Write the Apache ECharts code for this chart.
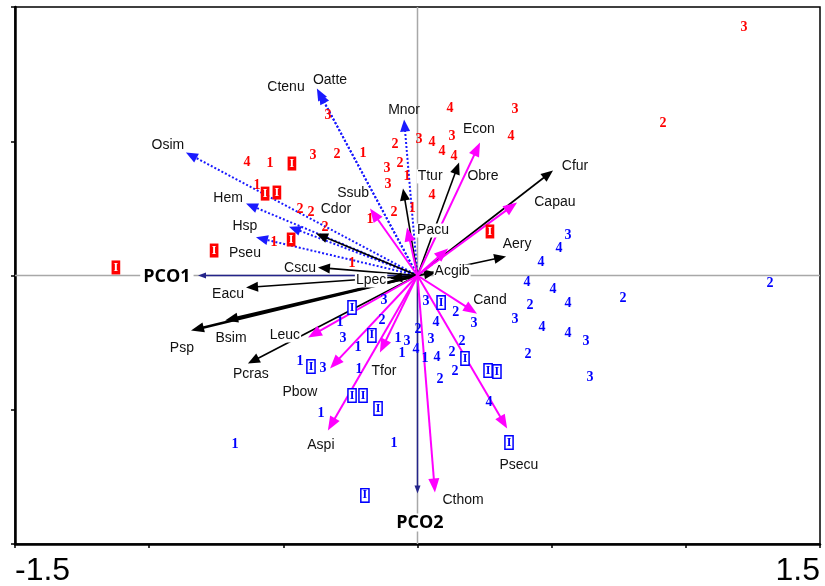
<!DOCTYPE html>
<html><head><meta charset="utf-8">
<script src="https://cdn.jsdelivr.net/npm/echarts/dist/echarts.min.js"></script>
<style>html,body{margin:0;padding:0;background:#fff}#c{width:825px;height:586px}</style>
</head><body><div id="c"></div>
<script>
// ---- Data (PCO biplot) ----
const xTickLabels = ['-1.5', '1.5'];
// sample scores: [label, PCO1, PCO2]
const redSamples = [
 ['3',-0.334,0.596],['4',-0.635,0.421],['1',-0.550,0.417],['I',-0.468,0.417],['3',-0.389,0.447],
 ['2',-0.300,0.451],['1',-0.203,0.454],['2',-0.084,0.488],['2',-0.065,0.417],['3',-0.114,0.399],
 ['1',-0.039,0.369],['3',-0.110,0.339],['1',-0.598,0.335],['I',-0.568,0.305],['I',-0.524,0.309],
 ['2',-0.438,0.246],['2',-0.397,0.235],['2',-0.345,0.179],['1',-0.177,0.209],['2',-0.088,0.235],
 ['1',-0.020,0.250],['I',-0.471,0.134],['1',-0.535,0.123],['I',-0.758,0.093],['1',-0.244,0.045],
 ['I',-1.124,0.030],['3',1.217,0.924],['4',0.121,0.622],['3',0.363,0.618],['2',0.915,0.566],
 ['3',0.006,0.507],['4',0.054,0.495],['3',0.129,0.518],['4',0.348,0.518],['4',0.091,0.462],
 ['4',0.136,0.443],['4',0.054,0.298],['I',0.270,0.164]
];
const blueSamples = [
 ['3',0.561,0.149],['4',0.527,0.101],['4',0.460,0.048],['4',0.408,-0.026],['4',0.505,-0.052],
 ['2',1.314,-0.030],['3',0.032,-0.097],['I',0.088,-0.101],['2',0.143,-0.138],['3',0.211,-0.179],
 ['2',0.419,-0.112],['4',0.561,-0.104],['2',0.766,-0.086],['3',0.363,-0.164],['4',0.464,-0.194],
 ['4',0.561,-0.216],['3',0.628,-0.246],['4',0.069,-0.175],['2',0.002,-0.201],['3',0.050,-0.238],
 ['2',0.166,-0.246],['4',-0.006,-0.276],['1',0.028,-0.309],['4',0.073,-0.305],['2',0.129,-0.287],
 ['I',0.177,-0.309],['2',0.140,-0.358],['2',0.084,-0.387],['2',0.412,-0.294],['3',0.643,-0.380],
 ['I',0.263,-0.354],['I',0.296,-0.358],['4',0.266,-0.473],['I',0.341,-0.622],['I',-0.244,-0.119],
 ['3',-0.125,-0.093],['1',-0.289,-0.175],['2',-0.132,-0.168],['3',-0.278,-0.235],['I',-0.170,-0.223],
 ['1',-0.222,-0.268],['1',-0.073,-0.235],['3',-0.039,-0.246],['1',-0.058,-0.291],['1',-0.438,-0.320],
 ['I',-0.397,-0.339],['3',-0.352,-0.346],['1',-0.218,-0.350],['I',-0.244,-0.447],['I',-0.203,-0.447],
 ['I',-0.147,-0.495],['1',-0.360,-0.514],['1',-0.680,-0.629],['1',-0.088,-0.626],['I',-0.196,-0.819]
];
// vector tips: [PCO1, PCO2]
const dottedVectors = [[-0.375,0.696],[-0.367,0.682],[-0.050,0.581],[-0.863,0.458],[-0.639,0.268],[-0.602,0.142],[-0.479,0.182]];
const blackVectors = [[-0.378,0.156],[-0.371,0.030],[-0.102,-0.011],[-0.639,-0.045],[-0.632,-0.328],[-0.054,0.324],[0.155,0.421],[0.505,0.391],[0.330,0.071],[0.069,0.011]];
const thickVectors = [[-0.844,-0.205],[-0.717,-0.168]];
const magentaVectors = [[-0.177,0.250],[-0.039,0.179],[0.233,0.495],[0.114,0.101],[0.371,0.272],[0.222,-0.142],[0.334,-0.570],[0.065,-0.808],[-0.140,-0.287],[-0.326,-0.346],[-0.334,-0.577],[-0.408,-0.231]];
const axisVectors = [[-0.818,0],[0,-0.812]];
// variable labels: [text, PCO1, PCO2]
const vectorLabels = [
 ['Oatte',-0.326,0.726],['Ctenu',-0.490,0.700],['Mnor',-0.050,0.615],['Osim',-0.930,0.484],
 ['Hem',-0.706,0.287],['Hsp',-0.643,0.182],['Pseu',-0.643,0.082],['Cdor',-0.304,0.246],
 ['Ssub',-0.240,0.305],['Cscu',-0.438,0.026],['Eacu',-0.706,-0.071],['Psp',-0.878,-0.272],
 ['Bsim',-0.695,-0.235],['Pcras',-0.621,-0.369],['Pbow',-0.438,-0.436],['Aspi',-0.360,-0.633],
 ['Tfor',-0.125,-0.358],['Cthom',0.170,-0.838],['Psecu',0.378,-0.708],['Cand',0.270,-0.093],
 ['Aery',0.371,0.115],['Capau',0.512,0.272],['Cfur',0.587,0.406],['Econ',0.229,0.544],['Obre',0.244,0.369]
];
const boxedLabels = [['Lpec',-0.173,-0.019],['Leuc',-0.494,-0.223],['Acgib',0.129,0.015],['Ttur',0.047,0.369],['Pacu',0.058,0.168]];
const axisLabels = [['PCO1',-0.934,-0.004],['PCO2',0.009,-0.920]];

// ---- helpers ----
function arrowSeries(data, o) {
  return {
    type: 'custom', data: data, encode: {x: 0, y: 1}, z: o.z || 3, silent: true, clip: false,
    renderItem: function (params, api) {
      const s = api.coord([0, 0]);
      const t = api.coord([api.value(0), api.value(1)]);
      const dx = t[0] - s[0], dy = t[1] - s[1];
      const L = Math.hypot(dx, dy) || 1;
      const ux = dx / L, uy = dy / L, px = -uy, py = ux;
      const bx = t[0] - ux * o.hl, by = t[1] - uy * o.hl;
      return {type: 'group', children: [
        {type: 'line', shape: {x1: s[0], y1: s[1], x2: bx + ux, y2: by + uy},
         style: {stroke: o.color, lineWidth: o.w, lineDash: o.dash || null}},
        {type: 'polygon', shape: {points: [[t[0], t[1]], [bx + px * o.hw / 2, by + py * o.hw / 2], [bx - px * o.hw / 2, by - py * o.hw / 2]]},
         style: {fill: o.color}}
      ]};
    }
  };
}
function textSeries(items, styleFn, z) {
  return {
    type: 'custom', data: items.map(d => [d[1], d[2], d[0]]), encode: {x: 0, y: 1}, z: z, silent: true, clip: false,
    renderItem: function (params, api) {
      const p = api.coord([api.value(0), api.value(1)]);
      const txt = items[params.dataIndex][0];
      return {type: 'text', x: p[0], y: p[1], style: Object.assign({text: txt, align: 'center', verticalAlign: 'middle'}, styleFn(txt))};
    }
  };
}
const numFont = 'bold 14px "Liberation Serif", "Times New Roman", serif';
const boxFont = 'bold 12px "Liberation Serif", "Times New Roman", serif';
const nameFont = '14px "Liberation Sans", Arial, sans-serif';

const chart = echarts.init(document.getElementById('c'));
chart.setOption({
  animation: false,
  backgroundColor: '#fff',
  grid: {left: 15, right: 5, top: 7, bottom: 42, show: true, borderColor: '#000', borderWidth: 1.5, containLabel: false, outerBoundsMode: 'none'},
  xAxis: {
    type: 'value', min: -1.5, max: 1.5, interval: 0.5,
    axisLine: {onZero: false, lineStyle: {color: '#000', width: 2.5}},
    axisTick: {length: 4, lineStyle: {color: '#000', width: 1.5}},
    splitLine: {show: false},
    axisLabel: {
      interval: 0, showMinLabel: true, showMaxLabel: true, margin: 11,
      formatter: v => (xTickLabels.indexOf(String(v)) >= 0 ? String(v) : ''),
      fontSize: 32, color: '#000', fontFamily: '"Liberation Sans", Arial, sans-serif',
      alignMinLabel: 'left', alignMaxLabel: 'right'
    }
  },
  yAxis: {
    type: 'value', min: -1, max: 1, interval: 0.5,
    axisLine: {onZero: false, lineStyle: {color: '#000', width: 2.5}},
    axisTick: {length: 4, lineStyle: {color: '#000', width: 1.5}},
    splitLine: {show: false}, axisLabel: {show: false}
  },
  series: [
    {type: 'line', data: [[-1.5, 0], [1.5, 0]], symbol: 'none', silent: true, z: 1, lineStyle: {color: '#a8a8a8', width: 1.5}},
    {type: 'line', data: [[0, -1], [0, 1]], symbol: 'none', silent: true, z: 1, lineStyle: {color: '#a8a8a8', width: 1.5}},
    arrowSeries(axisVectors, {color: '#24248a', w: 1.5, hl: 8, hw: 6, z: 2}),
    arrowSeries(dottedVectors, {color: '#1a1aff', w: 2, hl: 12, hw: 10, dash: [2, 2], z: 3}),
    arrowSeries(blackVectors, {color: '#000', w: 1.6, hl: 12, hw: 10, z: 3}),
    arrowSeries(thickVectors, {color: '#000', w: 2.6, hl: 13, hw: 10, z: 3}),
    arrowSeries(magentaVectors, {color: '#ff00ff', w: 2, hl: 14, hw: 11, z: 3}),
    textSeries(redSamples, t => t === 'I'
      ? {font: boxFont, fill: '#fff', backgroundColor: '#ff0000', padding: [1, 2, 0, 2], lineHeight: 13}
      : {font: numFont, fill: '#ff0000'}, 4),
    textSeries(blueSamples, t => t === 'I'
      ? {font: boxFont, fill: '#0000ff', backgroundColor: '#fff', borderColor: '#0000ff', borderWidth: 1.5, padding: [0, 1, 0, 1], lineHeight: 12}
      : {font: numFont, fill: '#0000ff'}, 4),
    textSeries(vectorLabels, () => ({font: nameFont, fill: '#111'}), 5),
    textSeries(boxedLabels, () => ({font: nameFont, fill: '#111', backgroundColor: '#fff', padding: [0, 1]}), 5),
    textSeries(axisLabels, () => ({font: 'bold 18px "Open Sans", "Noto Sans", sans-serif', fill: '#000', backgroundColor: '#fff', padding: [0, 3]}), 5)
  ]
});
</script></body></html>
